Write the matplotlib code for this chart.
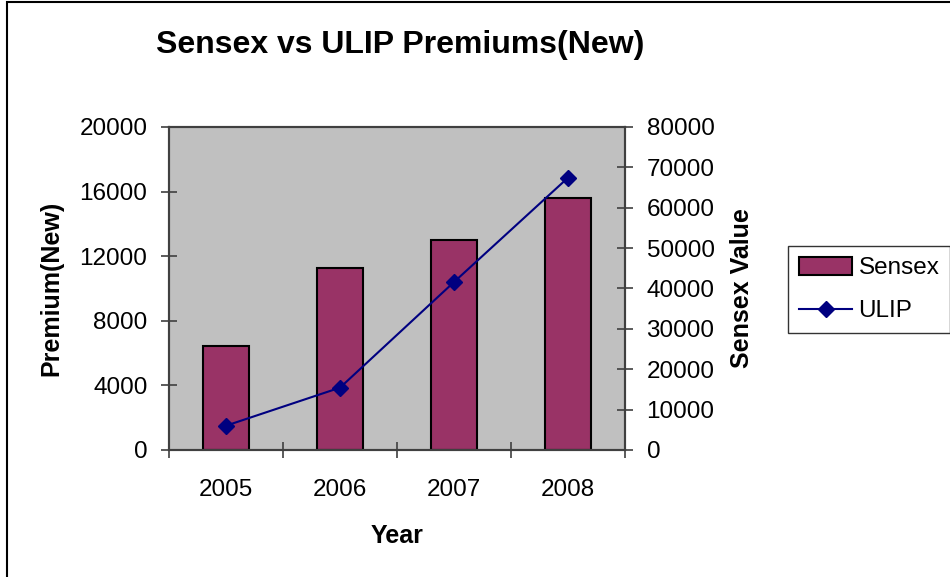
import numpy as np
import matplotlib.pyplot as plt
from matplotlib.patches import Rectangle

plt.rcParams['font.family'] = ['Liberation Sans', 'DejaVu Sans']

# data
years = ['2005', '2006', '2007', '2008']
sensex = [25800, 45150, 52100, 62500]     # bars, right axis
ulip = [1505, 3860, 10400, 16860]         # line, left axis

fig = plt.figure(figsize=(9.5, 5.77), dpi=100)
ax = fig.add_axes([169/950, 127/577, 456/950, 323/577])
ax2 = ax.twinx()

# bars go on the right axis, line on the left one; keep the line on top
ax.set_zorder(ax2.get_zorder() + 1)
ax.patch.set_visible(False)
ax2.patch.set_visible(True)
ax2.patch.set_facecolor('#C0C0C0')

index = np.arange(len(years))
bars = ax2.bar(index, sensex, 0.41, color='#993366', edgecolor='black',
               linewidth=1.5, label='Sensex')
line, = ax.plot(index, ulip, color='#000080', linewidth=1.5, marker='D',
                markersize=8, label='ULIP')

ax.set_xlim(-0.5, 3.5)
ax.set_ylim(0, 20000)
ax2.set_ylim(0, 80000)
ax.set_yticks(np.arange(0, 20001, 4000))
ax2.set_yticks(np.arange(0, 80001, 10000))
ax.set_xticks(index)
ax.set_xticklabels(years)
ax.set_xticks(np.arange(-0.5, 3.6, 1), minor=True)

for a in (ax, ax2):
    for s in a.spines.values():
        s.set_color('#404040')
        s.set_linewidth(1.5)
ax.tick_params(axis='y', direction='inout', length=11, width=1.2,
               color='#404040', labelsize=17.5, pad=10)
ax2.tick_params(axis='y', direction='inout', length=11, width=1.2,
                color='#404040', labelsize=17.5, pad=10)
ax.tick_params(axis='x', which='major', length=0, labelsize=17.5, pad=21)
ax.tick_params(axis='x', which='minor', direction='inout', length=11,
               width=1.2, color='#404040')

ax.set_xlabel('Year', fontsize=18, fontweight='bold')
ax.xaxis.set_label_coords(0.5, -0.228)
ax.set_ylabel('Premium(New)', fontsize=18, fontweight='bold')
ax.yaxis.set_label_coords(-0.232, 0.5)
ax2.set_ylabel('Sensex Value', fontsize=18, fontweight='bold')
ax2.yaxis.set_label_coords(1.23, 0.5)

fig.text(400/950, 1 - 45/577, 'Sensex vs ULIP Premiums(New)', fontsize=23,
         fontweight='bold', ha='center', va='center')

leg = ax.legend([bars, line], ['Sensex', 'ULIP'], loc='upper left',
                bbox_to_anchor=(788/950, 1 - 246/577),
                bbox_transform=fig.transFigure, fontsize=17.5, frameon=True,
                fancybox=False, edgecolor='black', handlelength=2.2,
                handleheight=0.75, handletextpad=0.25, labelspacing=0.85,
                borderpad=0.45, borderaxespad=0)
leg.get_frame().set_linewidth(1.0)

# outer chart border (right and bottom are off the picture)
fig.patches.append(Rectangle((7/950, -0.1), 1.2, 1.1 - 2/577, fill=False,
                             edgecolor='black', linewidth=1.5,
                             transform=fig.transFigure))

fig.savefig('out.png', dpi=100)
